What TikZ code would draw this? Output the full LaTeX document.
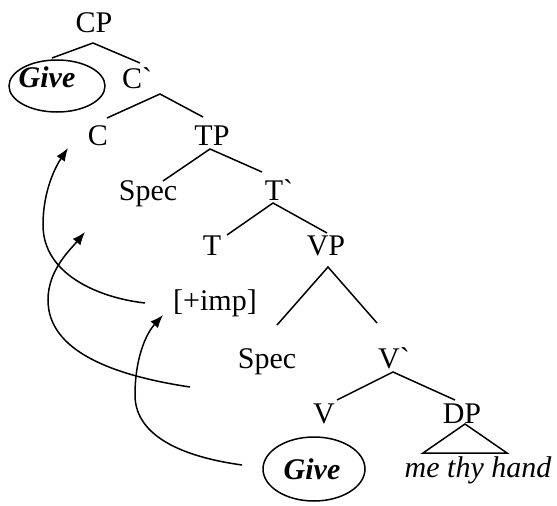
\documentclass[tikz,border=0pt]{standalone}
\usepackage{fontspec}
\setmainfont{Liberation Serif}
\usetikzlibrary{arrows.meta}
\begin{document}
\begin{tikzpicture}[x=1pt,y=-1pt,
  lbl/.style={anchor=base,inner sep=0pt,font=\fontsize{30}{36}\selectfont},
  branch/.style={line width=1.5pt},
  move/.style={line width=1.5pt,-{Latex[length=13pt,width=10pt]}}]
\useasboundingbox (0,0) rectangle (557,506);
% labels
\node[lbl] (CP) at (94,32) {CP};
\node[lbl,font=\fontsize{30}{36}\selectfont\bfseries\itshape] (give1) at (47,87) {Give};
\node[lbl] (Cbar) at (137,88) {C\textasciigrave};
\node[lbl] (C) at (98,145) {C};
\node[lbl] (TP) at (212,145) {TP};
\node[lbl] (spec1) at (148,200) {Spec};
\node[lbl] (Tbar) at (279,200) {T\textasciigrave};
\node[lbl] (T) at (212,255) {T};
\node[lbl] (VP) at (326,255) {VP};
\node[lbl] (imp) at (215,310) {[+imp]};
\node[lbl] (spec2) at (267,368) {Spec};
\node[lbl] (Vbar) at (394,368) {V\textasciigrave};
\node[lbl] (V) at (324,423) {V};
\node[lbl] (DP) at (462,423) {DP};
\node[lbl,font=\fontsize{30}{36}\selectfont\itshape] (obj) at (478,477) {me thy hand};
\node[lbl,font=\fontsize{30}{36}\selectfont\bfseries\itshape] (give2) at (312,479) {Give};
% circles
\draw[line width=1.5pt] (57,86) ellipse [x radius=48, y radius=26];
\draw[line width=1.5pt] (314,469) ellipse [x radius=51, y radius=32];
% branches
\coordinate (a1) at (93,43);
\draw[branch] (52,58) -- (a1) -- (140,63);
\coordinate (a2) at (160,94);
\draw[branch] (107,118) -- (a2) -- (203,117);
\coordinate (a3) at (210,149);
\draw[branch] (163,181) -- (a3) -- (262,172);
\coordinate (a4) at (273,203);
\draw[branch] (227,235) -- (a4) -- (327,233);
\coordinate (a5) at (328,267);
\draw[branch] (277,325) -- (a5) -- (377,323);
\coordinate (a6) at (393,372);
\draw[branch] (337,400) -- (a6) -- (455,400);
\coordinate (a7) at (465,424);
\draw[branch] (a7) -- (423,453) -- (507,453) -- cycle;
% movement arrows
\coordinate (s1) at (145,303);
\coordinate (t1) at (68,148);
\draw[move] (s1) .. controls (100,298) and (43,275) .. (43,225)
  .. controls (43,190) and (56,166) .. (t1);
\coordinate (s2) at (190,387);
\coordinate (t2) at (85,232);
\draw[move] (s2) .. controls (110,375) and (48,350) .. (48,300)
  .. controls (48,270) and (70,250) .. (t2);
\coordinate (s3) at (242,465);
\coordinate (t3) at (163,315);
\draw[move] (s3) .. controls (170,455) and (135,430) .. (135,395)
  .. controls (135,360) and (145,335) .. (t3);
\end{tikzpicture}
\end{document}
